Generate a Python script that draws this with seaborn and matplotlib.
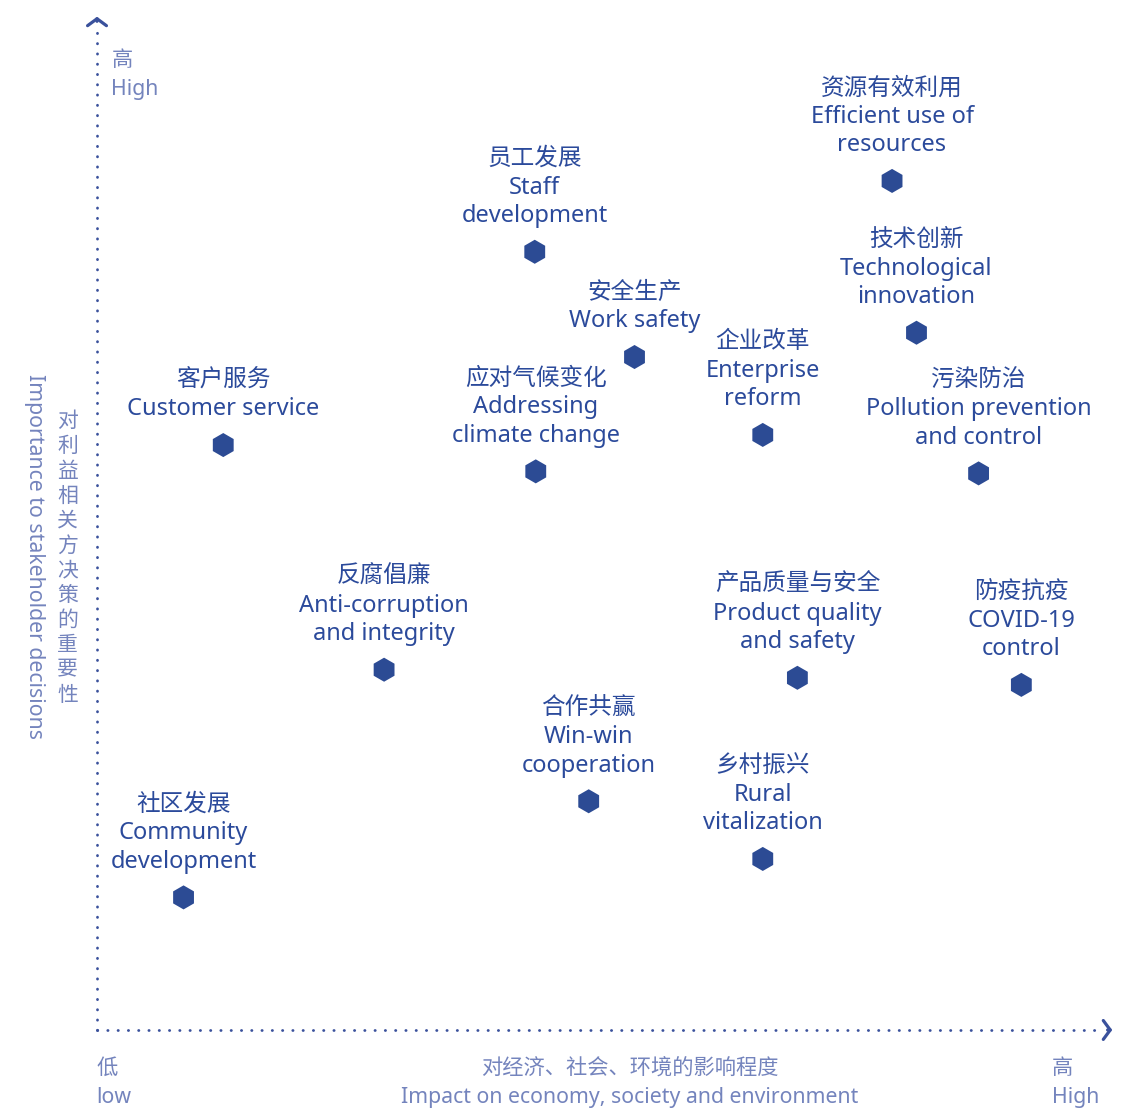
import matplotlib
matplotlib.use('Agg')
import matplotlib.pyplot as plt
import seaborn as sns
import pandas as pd

# issue labels (Chinese / English) and positions on a 0-100 scale
names_cn = ['资源有效利用', '员工发展', '技术创新', '安全生产', '企业改革', '客户服务',
            '应对气候变化', '污染防治', '反腐倡廉', '产品质量与安全', '防疫抗疫',
            '合作共赢', '乡村振兴', '社区发展']
names_en = ['Efficient use of\nresources', 'Staff\ndevelopment', 'Technological\ninnovation',
            'Work safety', 'Enterprise\nreform', 'Customer service',
            'Addressing\nclimate change', 'Pollution prevention\nand control',
            'Anti-corruption\nand integrity', 'Product quality\nand safety',
            'COVID-19\ncontrol', 'Win-win\ncooperation', 'Rural\nvitalization',
            'Community\ndevelopment']
impact = [78.1, 43.0, 80.5, 52.8, 65.4, 12.4, 43.1, 86.6, 28.2, 68.8, 90.8, 48.3, 65.4, 8.5]
importance = [83.9, 76.9, 68.9, 66.5, 58.8, 57.8, 55.2, 55.0, 35.6, 34.8, 34.1, 22.6, 16.9, 13.1]

df = pd.DataFrame({'cn': names_cn, 'en': names_en, 'x': impact, 'y': importance})

MARK = '#2c4b94'
TEXT = '#2b4a9b'
LIGHT = '#7484bd'
AXIS = '#3a519c'
FONT = ['Noto Sans', 'Noto Sans CJK SC']

sns.set_style('white')
plt.rcParams['font.family'] = FONT

fig = plt.figure(figsize=(11.32, 11.09), dpi=100)
ax = fig.add_axes([0, 0, 1, 1])
ax.set_xlim(-9.53, 101.67)
ax.set_ylim(-7.81, 101.78)
ax.axis('off')

sns.scatterplot(data=df, x='x', y='y', marker='h', s=300, color=MARK,
                edgecolor='none', ax=ax, zorder=3)

for _, r in df.iterrows():
    ax.annotate(r['cn'] + '\n' + r['en'], (r['x'], r['y']), xytext=(0, 17),
                textcoords='offset points', ha='center', va='bottom',
                multialignment='center', fontsize=17, color=TEXT, linespacing=1.25)

# dotted axes with chevron heads
dot = dict(color=AXIS, lw=2, linestyle=(0, (0.1, 3.6)), dash_capstyle='round')
ax.plot([0, 0], [0, 98.6], **dot)
ax.plot([0, 98.8], [0, 0], **dot)
head = dict(arrowstyle='->,head_length=0.5,head_width=0.68', color=AXIS, lw=2.3,
            mutation_scale=10)
ax.annotate('', xy=(0, 100.4), xytext=(0, 99.4), arrowprops=head)
ax.annotate('', xy=(100.0, 0), xytext=(99.0, 0), arrowprops=head)

# axis end labels
lab = dict(va='top', fontsize=15.3, color=LIGHT, linespacing=1.45)
ax.text(1.4, 96.8, '高\nHigh', ha='left', **lab)
ax.text(-0.1, -2.8, '低\nlow', ha='left', **lab)
ax.text(93.8, -2.8, '高\nHigh', ha='left', **lab)
ax.text(52.3, -2.8, '对经济、社会、环境的影响程度\nImpact on economy, society and environment',
        ha='center', **lab)

# y axis title: english rotated, chinese stacked vertically
ax.text(-6.1, 46.8, 'Importance to stakeholder decisions', rotation=-90,
        ha='center', va='center', fontsize=15.3, color=LIGHT)
ax.text(-2.9, 46.6, '\n'.join('对利益相关方决策的重要性'), ha='center', va='center',
        fontsize=15, color=LIGHT, linespacing=1.24)

fig.savefig('out.png', dpi=100)
